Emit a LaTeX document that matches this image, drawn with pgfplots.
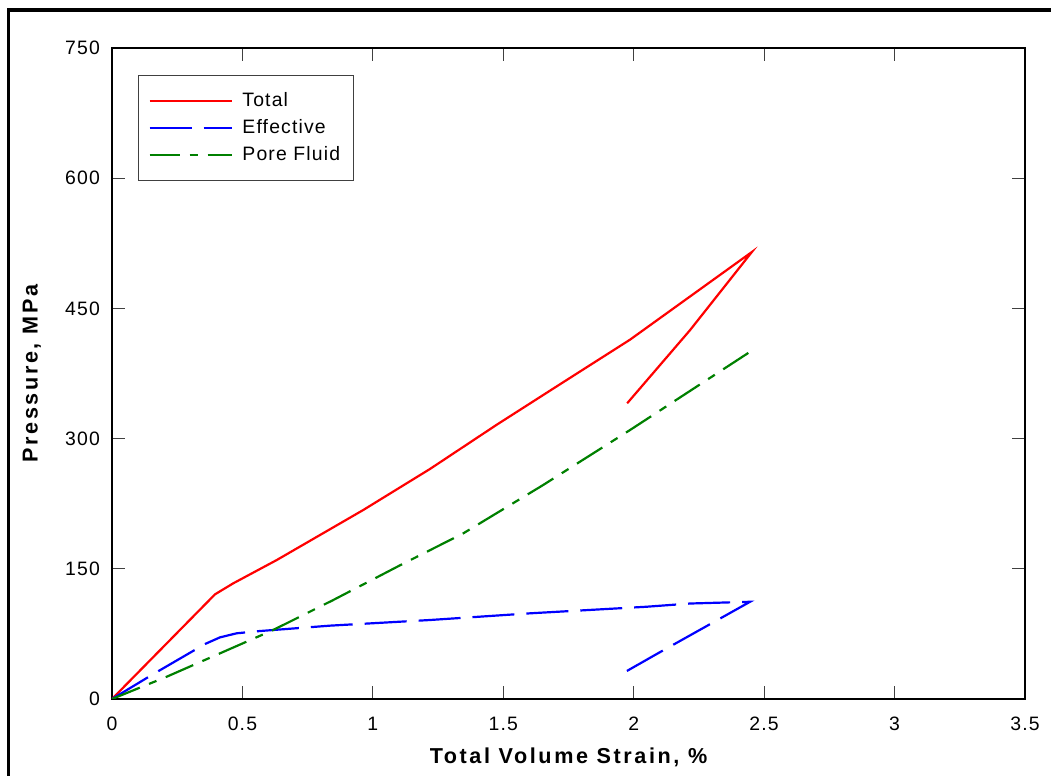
\documentclass[border=0pt]{standalone}
\usepackage{fontspec}
\setmainfont{Liberation Sans}
\newfontfamily\tickfont[LetterSpace=6]{Liberation Sans}
\newfontfamily\labfont[LetterSpace=12,UprightFont={Liberation Sans Bold}]{Liberation Sans}
\usepackage{pgfplots}
\pgfplotsset{compat=1.18}
\definecolor{pgreen}{RGB}{0,128,0}
\begin{document}
\begin{tikzpicture}
\useasboundingbox (-56pt,-38.5pt) rectangle (469.5pt,349.5pt);
\draw[line width=1.65pt] (-51.75pt,-38.5pt) -- (-51.75pt,344.5pt) -- (469.5pt,344.5pt);
\begin{axis}[
  at={(0,0)}, anchor=south west,
  scale only axis, width=456.5pt, height=325.5pt,
  xmin=0, xmax=3.5, ymin=0, ymax=750,
  xtick={0,0.5,...,3.5}, ytick={0,150,...,750},
  xticklabels={0,0.5,1,1.5,2,2.5,3,3.5},
  yticklabels={0,150,300,450,600,750},
  tick align=inside, major tick length=6.5pt,
  tick style={black!75, line width=0.6pt},
  axis line style={black, line width=0.65pt},
  /pgf/number format/assume math mode=true,
  tick label style={font=\fontsize{9.7}{11}\tickfont},
  xticklabel style={yshift=-5.5pt},
  yticklabel style={xshift=-2.5pt},
  xlabel={Total Volume Strain, \%},
  ylabel={Pressure, MPa},
  every axis x label/.style={at={(axis description cs:0.5,-0.0998)}, anchor=base, font=\fontsize{10.8}{12}\labfont},
  every axis y label/.style={at={(axis description cs:-0.0815,0.5)}, rotate=90, anchor=base, font=\fontsize{10.8}{12}\labfont},
  legend style={at={(axis description cs:0.0285,0.9585)}, anchor=north west,
    draw=black!75, line width=0.6pt, font=\fontsize{9.7}{11}\tickfont,
    inner xsep=5pt, inner ysep=6.5pt, row sep=1.5pt,
    nodes={inner sep=1.8pt}},
  legend cell align=left,
  legend image code/.code={\draw[#1] (0pt,0pt) -- (41pt,0pt); \path (44pt,0pt);},
]
\addplot[red, line width=1.1pt] coordinates {
(0,0) (0.395,120.6) (0.465,133.3) (0.631,160) (0.963,217.7) (1.219,265) (1.475,316) (1.730,365) (1.986,414) (2.453,515) (2.216,425) (1.975,340.7)
};
\addlegendentry{Total}
\addplot[blue, line width=1.1pt, dash pattern=on 21pt off 6pt] coordinates {
(0,0) (0.152,27.6) (0.357,63.4) (0.414,71) (0.478,75.7) (0.567,78.3) (0.836,84.5) (1.219,91) (1.602,98.7) (2.05,106.3) (2.216,110) (2.446,112) (2.088,51.8) (1.974,32.3)
};
\addlegendentry{Effective}
\addplot[pgreen, line width=1.1pt, dash pattern=on 15pt off 5pt on 4pt off 5pt] coordinates {
(0,0) (0.21,25.7) (0.618,79.5) (0.848,114) (1.104,154) (1.347,190.9) (1.65,246) (1.986,309.9) (2.446,400)
};
\addlegendentry{Pore Fluid}
\end{axis}
\end{tikzpicture}
\end{document}
